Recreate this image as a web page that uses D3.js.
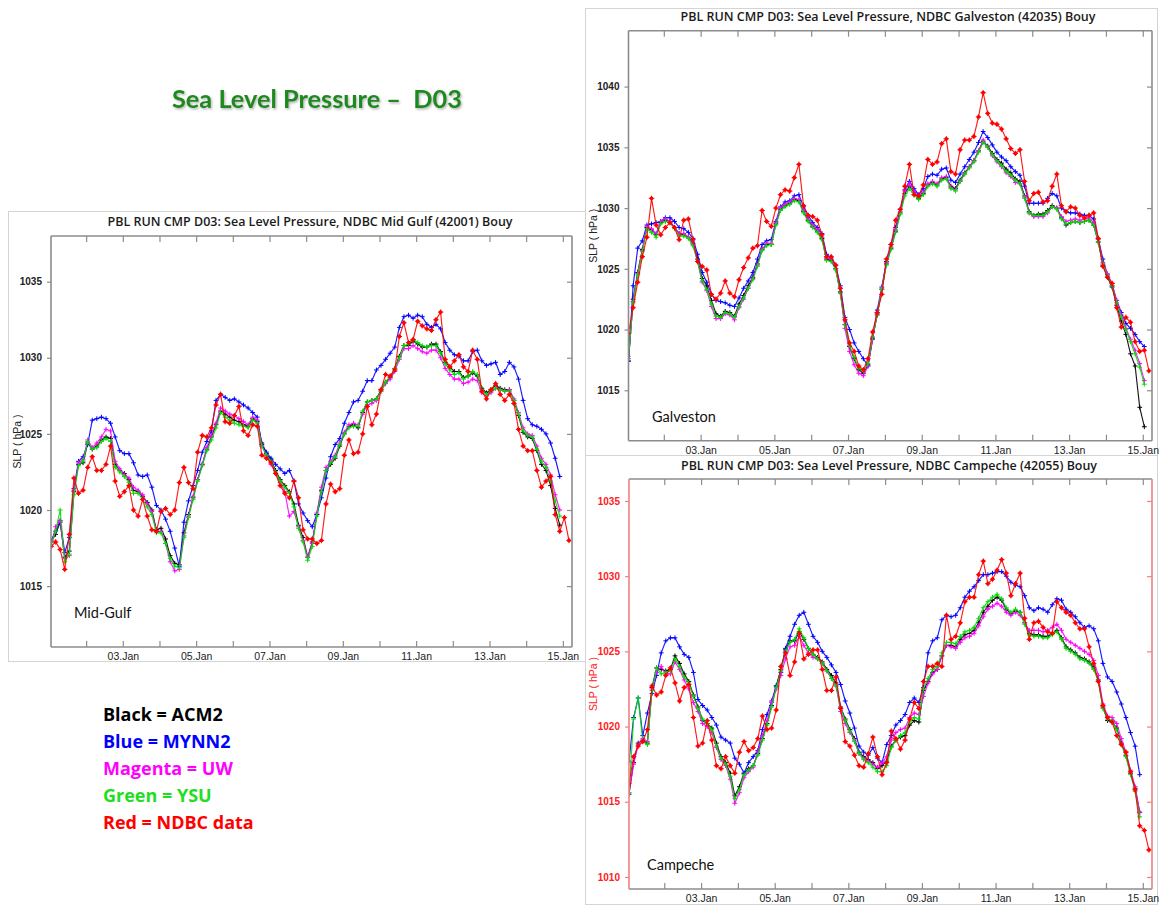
<!DOCTYPE html>
<html>
<head>
<meta charset="utf-8">
<script src="https://cdn.jsdelivr.net/npm/d3@7"></script>
<style>
  html, body { margin: 0; padding: 0; background: #ffffff; }
  svg { display: block; }
</style>
</head>
<body>
<svg id="chart" width="1161" height="905"></svg>
<script>
// Sea level pressure (hPa), model runs vs. NDBC buoy observations.
// Samples every 3 hours starting 01 Jan 01 UTC.

// ---------- Mid Gulf (42001) ----------
const midGulfACM2 = [
 1017.9,1018.4,1019.2,1016.9,1017.3,1021.2,1023.0,1023.1,1024.4,1024.0,
 1024.2,1024.6,1024.8,1024.7,1023.0,1022.6,1022.4,1022.0,1021.3,1021.2,
 1020.9,1020.5,1020.0,1018.7,1018.8,1018.1,1017.0,1016.5,1016.4,1018.5,
 1019.7,1020.8,1022.0,1023.0,1024.0,1024.8,1025.6,1026.5,1026.3,1026.1,
 1025.9,1025.8,1025.6,1025.5,1026.0,1025.8,1024.4,1023.7,1023.3,1022.6,
 1022.0,1021.6,1021.2,1020.4,1019.0,1018.2,1016.9,1017.9,1019.7,1021.3,
 1022.6,1023.0,1023.4,1024.2,1025.0,1025.5,1025.6,1025.4,1026.4,1027.1,
 1027.2,1027.3,1027.9,1028.4,1028.7,1029.3,1030.1,1030.8,1030.8,1031.1,
 1030.9,1030.7,1030.7,1030.9,1030.9,1030.4,1029.7,1029.4,1029.1,1029.1,
 1028.7,1028.8,1029.0,1028.8,1028.0,1027.7,1027.9,1028.2,1028.0,1027.9,
 1027.9,1027.2,1026.2,1025.1,1024.8,1024.7,1023.9,1023.0,1022.6,1021.6,
 1020.1,1019.0];
const midGulfMYNN2 = [
 1018.0,1018.6,1019.3,1017.2,1018.2,1021.4,1023.2,1023.5,1024.3,1025.9,
 1026.0,1026.1,1026.0,1025.7,1024.8,1023.9,1023.7,1023.7,1023.1,1022.3,
 1022.2,1022.3,1021.5,1020.3,1020.0,1019.4,1018.6,1017.5,1016.3,1019.2,
 1020.6,1021.6,1022.6,1023.8,1024.5,1025.2,1027.2,1027.6,1027.4,1027.2,
 1027.3,1027.1,1026.9,1026.7,1026.4,1026.1,1024.3,1023.8,1023.4,1023.0,
 1022.7,1022.4,1022.6,1021.9,1020.4,1019.8,1019.3,1018.9,1019.7,1020.8,
 1022.1,1023.5,1024.3,1024.7,1025.7,1026.4,1027.1,1027.2,1027.8,1028.5,
 1028.5,1029.2,1029.5,1029.9,1030.3,1030.7,1032.0,1032.7,1032.8,1032.6,
 1032.8,1032.7,1032.2,1032.0,1032.2,1031.9,1031.0,1030.5,1030.2,1030.1,
 1029.8,1029.8,1030.4,1030.5,1029.8,1029.5,1029.6,1029.7,1028.9,1029.1,
 1029.7,1029.4,1028.6,1027.2,1026.0,1025.6,1025.5,1025.3,1025.0,1024.4,
 1023.4,1022.2];
const midGulfUW = [
 1017.6,1018.9,1019.3,1016.8,1017.0,1021.3,1023.1,1023.3,1024.6,1024.1,
 1024.4,1024.8,1025.3,1025.2,1023.2,1022.7,1022.3,1022.1,1021.5,1021.3,
 1021.0,1020.4,1019.9,1018.6,1018.6,1017.8,1016.6,1016.0,1016.1,1018.3,
 1019.6,1020.9,1022.0,1023.0,1024.1,1024.9,1025.7,1026.7,1026.5,1026.3,
 1026.2,1026.0,1025.8,1025.6,1026.1,1025.9,1024.2,1023.6,1023.0,1022.4,
 1021.8,1021.2,1019.6,1019.9,1018.9,1018.0,1016.9,1017.8,1019.8,1021.5,
 1022.8,1023.2,1023.6,1024.4,1025.1,1025.6,1025.7,1025.6,1026.3,1026.9,
 1027.0,1027.2,1027.8,1028.3,1028.6,1029.1,1029.9,1030.6,1030.6,1030.8,
 1030.6,1030.4,1030.3,1030.5,1030.5,1030.0,1029.3,1028.9,1028.6,1028.6,
 1028.3,1028.4,1028.6,1028.5,1027.7,1027.5,1027.7,1028.0,1027.9,1027.8,
 1027.9,1027.3,1026.4,1025.4,1025.0,1024.9,1024.2,1023.4,1023.0,1022.3,
 1021.0,1020.0];
const midGulfYSU = [
 1017.7,1018.6,1020.0,1016.6,1017.1,1021.0,1022.9,1023.2,1024.5,1024.0,
 1024.1,1024.5,1024.7,1024.5,1022.8,1022.5,1022.2,1021.8,1021.1,1021.1,
 1020.7,1020.2,1019.7,1018.5,1018.5,1017.8,1016.8,1016.3,1016.2,1018.2,
 1019.5,1020.7,1021.9,1022.9,1023.9,1024.6,1025.4,1026.4,1026.1,1025.9,
 1025.7,1025.6,1025.5,1025.4,1025.9,1025.7,1024.2,1023.6,1023.2,1022.5,
 1021.9,1021.5,1021.1,1020.2,1018.8,1017.9,1016.7,1017.6,1019.6,1021.2,
 1022.6,1023.1,1023.5,1024.3,1025.0,1025.4,1025.5,1025.5,1026.5,1027.1,
 1027.2,1027.3,1027.8,1028.4,1028.8,1029.3,1030.0,1030.8,1030.9,1031.2,
 1031.0,1030.8,1030.7,1030.8,1030.8,1030.3,1029.6,1029.2,1028.9,1029.0,
 1028.6,1028.8,1029.1,1028.9,1027.9,1027.6,1027.8,1028.0,1027.9,1027.8,
 1027.8,1027.2,1026.3,1025.2,1024.9,1024.8,1024.0,1023.2,1022.8,1021.9,
 1020.6,1019.6];
const midGulfNDBC = [
 1017.6,1017.9,1017.4,1016.1,1018.4,1022.1,1021.1,1021.3,1022.8,1023.5,
 1022.6,1022.6,1023.0,1024.2,1021.9,1020.9,1021.2,1021.6,1020.0,1019.6,
 1020.7,1019.6,1018.7,1018.6,1019.9,1020.1,1019.7,1020.0,1021.8,1022.8,
 1021.8,1021.4,1023.8,1024.9,1024.8,1025.4,1026.9,1027.6,1025.8,1025.7,
 1026.2,1026.8,1025.2,1024.9,1025.6,1025.5,1023.6,1023.4,1023.1,1022.4,
 1021.6,1021.1,1020.8,1021.9,1020.8,1018.7,1018.1,1018.1,1017.8,1018.0,
 1020.4,1021.7,1021.2,1021.4,1023.6,1024.6,1023.7,1023.8,1025.0,1026.8,
 1025.6,1026.3,1027.9,1028.9,1028.8,1029.2,1031.4,1032.3,1031.0,1031.2,
 1032.4,1032.1,1031.9,1031.8,1032.5,1033.0,1029.9,1029.4,1029.8,1030.2,
 1029.4,1029.1,1030.5,1029.9,1027.8,1027.3,1027.9,1028.3,1027.6,1027.2,
 1027.6,1027.0,1025.3,1024.2,1023.9,1023.9,1022.6,1021.5,1021.9,1022.2,
 1019.7,1018.6,1019.5,1018.0];

// ---------- Galveston (42035) ----------
const galvestonACM2 = [
 1017.4,1022.5,1024.7,1026.6,1028.4,1028.2,1027.8,1028.8,1029.0,1028.9,
 1028.4,1027.9,1027.8,1027.6,1027.1,1025.8,1024.2,1023.6,1022.4,1021.3,
 1021.1,1021.5,1021.4,1021.1,1022.1,1022.8,1023.6,1024.3,1025.4,1026.6,
 1027.0,1027.0,1028.7,1029.9,1030.2,1030.4,1030.7,1030.6,1029.7,1029.0,
 1028.5,1028.1,1027.5,1025.8,1025.7,1025.0,1023.1,1020.4,1018.6,1017.6,
 1016.7,1016.4,1017.1,1019.3,1021.2,1023.3,1025.4,1026.7,1028.1,1029.6,
 1031.2,1031.8,1031.3,1030.8,1031.2,1031.9,1032.1,1031.9,1032.4,1032.5,
 1031.8,1031.6,1032.3,1032.9,1033.4,1033.9,1034.7,1035.5,1035.1,1034.5,
 1034.0,1033.7,1033.2,1032.9,1032.4,1032.2,1031.0,1029.7,1029.4,1029.5,
 1029.5,1029.8,1030.2,1030.0,1029.2,1028.6,1028.8,1028.9,1028.8,1028.9,
 1029.0,1028.6,1027.2,1025.3,1024.3,1023.5,1022.0,1020.7,1019.6,1018.0,
 1017.0,1013.6,1012.0];
const galvestonMYNN2 = [
 1017.4,1023.6,1026.7,1027.3,1028.6,1028.7,1028.8,1028.9,1029.2,1029.2,
 1028.9,1028.4,1028.3,1028.0,1027.5,1026.2,1024.7,1023.9,1022.9,1022.4,
 1022.3,1022.2,1022.0,1021.9,1022.6,1023.4,1024.0,1024.7,1025.8,1027.0,
 1027.3,1027.4,1028.9,1030.1,1030.5,1030.6,1031.0,1031.1,1030.1,1029.4,
 1028.8,1028.4,1027.9,1026.2,1025.9,1025.3,1023.6,1021.0,1020.0,1018.9,
 1018.2,1017.6,1017.0,1019.2,1021.6,1023.5,1025.6,1027.0,1028.4,1029.9,
 1031.5,1032.2,1031.6,1031.1,1031.6,1032.6,1032.8,1032.7,1033.2,1033.3,
 1032.3,1032.1,1032.8,1033.4,1034.0,1034.6,1035.4,1036.3,1035.8,1035.2,
 1034.6,1034.2,1033.9,1033.4,1033.0,1032.7,1031.8,1030.4,1030.4,1030.4,
 1030.4,1030.8,1031.2,1031.0,1030.0,1029.7,1029.6,1029.6,1029.5,1029.4,
 1029.4,1029.1,1027.5,1025.8,1024.5,1023.6,1022.4,1021.4,1020.5,1020.1,
 1019.6,1019.0,1018.6];
const galvestonUW = [
 1017.6,1022.3,1024.6,1026.5,1028.5,1028.3,1027.9,1028.9,1029.1,1028.9,
 1028.4,1027.9,1027.9,1027.6,1027.0,1025.6,1023.9,1023.2,1021.9,1020.9,
 1020.9,1021.3,1021.2,1020.8,1021.8,1022.5,1023.4,1024.2,1025.3,1026.6,
 1027.1,1027.1,1028.8,1030.0,1030.3,1030.5,1030.8,1030.7,1029.8,1029.1,
 1028.6,1028.2,1027.6,1025.9,1025.8,1025.0,1023.0,1020.1,1018.2,1017.1,
 1016.4,1016.2,1017.0,1019.2,1021.3,1023.4,1025.5,1026.8,1028.2,1029.7,
 1031.4,1032.0,1031.4,1030.9,1031.3,1032.0,1032.2,1032.0,1032.5,1032.6,
 1031.7,1031.5,1032.2,1032.8,1033.4,1033.9,1034.7,1035.6,1035.0,1034.3,
 1033.8,1033.4,1032.9,1032.6,1032.1,1032.0,1030.9,1029.6,1029.3,1029.3,
 1029.3,1029.6,1030.1,1030.0,1029.3,1028.9,1029.0,1029.1,1029.0,1029.1,
 1029.2,1028.8,1027.4,1025.5,1024.6,1023.8,1022.4,1021.2,1020.1,1019.2,
 1018.3,1017.2,1015.8];
const galvestonYSU = [
 1017.8,1022.2,1024.5,1026.4,1028.3,1028.0,1027.6,1028.7,1028.9,1028.8,
 1028.3,1027.7,1027.7,1027.5,1026.9,1025.6,1024.0,1023.3,1022.1,1021.1,
 1021.0,1021.4,1021.3,1021.0,1021.9,1022.6,1023.4,1024.1,1025.2,1026.5,
 1026.9,1027.0,1028.6,1029.8,1030.1,1030.3,1030.6,1030.5,1029.6,1028.9,
 1028.4,1028.0,1027.4,1025.7,1025.6,1024.9,1023.0,1020.4,1018.7,1017.7,
 1016.8,1016.6,1017.2,1019.4,1021.3,1023.3,1025.3,1026.6,1028.0,1029.5,
 1031.0,1031.6,1031.1,1030.7,1031.1,1031.8,1032.0,1031.8,1032.3,1032.4,
 1031.6,1031.4,1032.2,1032.8,1033.3,1033.8,1034.6,1035.4,1035.0,1034.4,
 1033.9,1033.5,1033.0,1032.7,1032.3,1032.0,1030.8,1029.6,1029.4,1029.4,
 1029.4,1029.7,1030.1,1029.9,1029.1,1028.7,1028.8,1028.9,1028.8,1028.9,
 1029.0,1028.6,1027.2,1025.4,1024.4,1023.6,1022.2,1021.0,1020.0,1019.0,
 1018.0,1016.9,1015.5];
const galvestonNDBC = [
 1019.7,1021.8,1023.9,1026.0,1027.6,1030.8,1028.6,1027.8,1028.4,1028.8,
 1028.4,1027.4,1029.0,1029.1,1027.4,1025.6,1025.2,1024.9,1022.9,1022.5,
 1023.0,1024.0,1023.0,1022.7,1024.1,1025.1,1025.9,1026.7,1026.9,1029.8,
 1028.9,1028.5,1030.0,1031.1,1031.5,1031.4,1032.5,1033.6,1030.2,1029.4,
 1029.3,1029.0,1027.8,1026.0,1026.0,1025.3,1023.4,1020.8,1018.9,1018.2,
 1017.0,1016.7,1017.6,1019.8,1021.4,1022.9,1025.8,1027.0,1029.0,1029.9,
 1031.8,1033.6,1031.1,1031.0,1031.9,1034.0,1033.6,1033.8,1035.3,1035.7,
 1033.0,1032.8,1034.8,1035.6,1035.6,1035.9,1037.5,1039.5,1037.8,1037.0,
 1036.9,1036.5,1035.7,1034.9,1034.5,1034.8,1032.2,1030.6,1031.2,1031.3,
 1030.5,1030.6,1031.8,1032.8,1030.2,1029.7,1030.1,1030.0,1029.4,1029.2,
 1029.4,1029.6,1027.5,1025.2,1024.3,1023.8,1021.8,1020.2,1021.0,1020.6,
 1019.0,1018.2,1018.3,1016.6];

// ---------- Campeche (42055) ----------
const campecheACM2 = [
 1015.5,1017.6,1018.9,1019.1,1018.9,1022.6,1023.9,1023.8,1023.7,1023.8,
 1024.7,1024.2,1023.5,1023.0,1022.1,1021.3,1020.4,1020.2,1019.9,1018.9,
 1018.0,1017.6,1016.9,1015.4,1016.0,1016.9,1017.2,1017.4,1018.2,1019.2,
 1020.2,1021.4,1022.7,1023.8,1025.1,1025.7,1025.7,1026.3,1025.8,1025.2,
 1024.8,1024.6,1024.3,1023.8,1023.4,1022.9,1021.3,1020.5,1019.8,1019.2,
 1018.3,1018.0,1017.8,1017.6,1017.2,1017.4,1017.7,1018.7,1019.1,1019.3,
 1019.4,1020.1,1020.4,1020.3,1022.4,1023.0,1023.6,1023.8,1024.7,1025.4,
 1025.4,1025.3,1025.8,1026.1,1026.2,1026.4,1026.9,1027.6,1028.0,1028.4,
 1028.6,1028.4,1027.8,1027.5,1027.7,1027.6,1026.9,1026.2,1026.1,1026.1,
 1026.0,1026.0,1026.2,1026.4,1025.9,1025.3,1025.1,1024.9,1024.6,1024.5,
 1024.3,1023.9,1023.1,1021.3,1020.4,1020.3,1019.9,1018.9,1018.1,1016.9,
 1015.9,1014.3];
const campecheMYNN2 = [
 1017.7,1020.6,1021.9,1019.4,1020.9,1022.2,1023.4,1024.9,1025.7,1025.9,
 1025.9,1025.3,1024.8,1024.6,1023.6,1021.8,1021.4,1021.1,1020.6,1020.1,
 1019.3,1019.1,1018.9,1017.9,1017.5,1016.9,1017.6,1018.0,1018.4,1019.8,
 1020.8,1021.7,1022.7,1023.6,1025.2,1026.0,1026.8,1027.4,1027.6,1026.8,
 1026.0,1025.6,1025.0,1024.6,1024.1,1023.6,1022.8,1021.7,1020.9,1019.9,
 1018.7,1018.3,1018.1,1018.6,1017.9,1017.6,1018.8,1019.4,1020.1,1020.4,
 1020.8,1021.6,1021.9,1021.6,1022.6,1024.9,1025.7,1025.9,1027.1,1027.4,
 1027.3,1027.4,1027.9,1028.6,1029.0,1029.3,1029.7,1030.1,1030.1,1030.2,
 1030.3,1030.3,1030.0,1029.6,1029.4,1029.3,1028.7,1027.9,1027.7,1027.9,
 1027.8,1027.6,1028.1,1028.5,1028.4,1027.8,1027.6,1027.3,1026.9,1026.6,
 1026.7,1026.5,1025.7,1024.2,1023.3,1023.0,1022.3,1021.5,1020.6,1019.6,
 1018.7,1016.8];
const campecheUW = [
 1015.6,1017.5,1018.8,1019.2,1019.0,1022.5,1023.6,1024.0,1023.5,1023.5,
 1024.3,1023.8,1023.1,1022.5,1021.6,1021.0,1020.2,1020.0,1019.6,1018.6,
 1017.8,1017.4,1016.5,1014.9,1015.6,1016.6,1017.0,1017.3,1018.3,1019.4,
 1020.4,1021.6,1022.5,1023.4,1024.5,1025.3,1025.4,1026.0,1025.4,1024.9,
 1024.6,1024.5,1024.2,1023.7,1023.2,1022.7,1021.0,1020.2,1019.6,1019.1,
 1018.2,1017.9,1017.7,1017.5,1017.3,1017.6,1018.0,1019.1,1019.6,1019.8,
 1019.9,1020.6,1020.9,1020.8,1022.0,1022.9,1023.5,1023.8,1024.7,1025.4,
 1025.3,1025.2,1025.6,1025.9,1026.0,1026.2,1026.7,1027.3,1027.8,1028.0,
 1028.2,1028.0,1027.6,1027.4,1027.6,1027.4,1026.9,1026.4,1026.4,1026.4,
 1026.3,1026.4,1026.6,1026.8,1026.4,1025.8,1025.6,1025.4,1025.2,1025.0,
 1024.8,1024.4,1023.4,1021.5,1020.7,1020.6,1020.2,1019.2,1018.3,1017.1,
 1016.0,1014.3];
const campecheYSU = [
 1015.6,1020.5,1021.9,1019.0,1018.8,1022.4,1023.9,1023.5,1023.6,1023.7,
 1024.5,1024.0,1023.3,1022.9,1022.0,1021.2,1020.5,1020.2,1019.8,1018.7,
 1017.9,1017.5,1016.7,1015.2,1015.8,1016.8,1017.1,1017.4,1018.1,1019.1,
 1020.1,1021.3,1022.6,1023.7,1025.0,1025.6,1025.8,1026.5,1025.9,1025.2,
 1024.8,1024.5,1024.2,1023.7,1023.2,1022.7,1021.2,1020.4,1019.7,1019.0,
 1018.2,1017.8,1017.6,1017.3,1017.0,1017.0,1017.4,1018.6,1019.1,1019.4,
 1019.6,1020.3,1020.6,1020.5,1022.5,1023.2,1023.8,1024.0,1024.9,1025.6,
 1025.6,1025.5,1026.0,1026.3,1026.4,1026.6,1027.2,1027.9,1028.3,1028.6,
 1028.8,1028.5,1027.9,1027.6,1027.8,1027.6,1026.8,1026.1,1026.0,1026.0,
 1025.9,1025.9,1026.1,1026.3,1025.8,1025.2,1025.0,1024.8,1024.5,1024.4,
 1024.2,1023.8,1023.0,1021.2,1020.5,1020.4,1019.8,1018.8,1018.0,1016.8,
 1015.7,1014.0];
const campecheNDBC = [
 1016.2,1018.0,1018.7,1019.0,1019.8,1022.7,1022.1,1022.3,1023.4,1023.9,
 1022.9,1021.7,1022.6,1022.8,1020.6,1018.7,1018.9,1020.4,1019.1,1017.4,
 1017.2,1018.0,1017.4,1016.9,1018.3,1019.0,1018.4,1018.6,1019.2,1020.7,
 1019.8,1019.9,1021.1,1024.0,1024.9,1023.4,1024.3,1026.2,1024.5,1024.8,
 1025.1,1025.1,1023.8,1022.4,1022.4,1023.3,1021.2,1019.0,1018.7,1018.1,
 1017.4,1017.3,1018.2,1019.3,1018.0,1016.8,1017.6,1019.7,1019.2,1018.5,
 1019.1,1020.5,1021.6,1021.2,1023.0,1024.0,1024.0,1024.2,1024.0,1027.4,
 1025.8,1026.0,1026.9,1028.3,1028.6,1028.6,1030.1,1031.0,1029.5,1029.8,
 1030.4,1031.1,1030.2,1028.7,1029.5,1030.2,1027.2,1025.8,1026.9,1027.0,
 1026.6,1026.3,1026.2,1028.3,1027.9,1027.6,1027.4,1026.9,1026.5,1026.5,
 1025.3,1024.2,1023.0,1021.4,1020.6,1020.3,1019.4,1018.8,1018.3,1017.0,
 1015.8,1013.4,1013.1,1011.8];

// Axis tick values and labels
const midGulfTicks   = [1015, 1020, 1025, 1030, 1035];
const galvestonTicks = [1015, 1020, 1025, 1030, 1035, 1040];
const campecheTicks  = [1010, 1015, 1020, 1025, 1030, 1035];
const legendLabels = ["Black = ACM2", "Blue = MYNN2", "Magenta = UW", "Green = YSU", "Red = NDBC data"];

// ---------- time axis ----------
const HOUR = 3600e3;
const T0 = Date.UTC(2014, 0, 1);          // 01 Jan 00 UTC
const FIRST_HOUR = 1, STEP_HOURS = 3;
const timeAt = i => new Date(T0 + (FIRST_HOUR + STEP_HOURS * i) * HOUR);
const xDomain = [new Date(T0 + 1 * HOUR), new Date(T0 + 342 * HOUR)];
const fmtDay = d3.utcFormat("%d.%b");

// ---------- styles ----------
const lineStyles = [
  { color: "#000000", marker: "plus" },   // ACM2
  { color: "#0000ff", marker: "plus" },   // MYNN2
  { color: "#ff00ff", marker: "plus" },   // UW
  { color: "#00dd00", marker: "plus" },   // YSU
  { color: "#ff0000", marker: "dot"  }    // NDBC
];
const legendColors = ["#000000", "#0000ff", "#ff00ff", "#22dd22", "#ff0000"];

const panels = [
  {
    title: "PBL RUN CMP D03: Sea Level Pressure, NDBC Mid Gulf (42001) Bouy",
    name: "Mid-Gulf",
    series: [midGulfACM2, midGulfMYNN2, midGulfUW, midGulfYSU, midGulfNDBC],
    ticks: midGulfTicks, yDomain: [1011, 1038],
    frame: { x: 8.5, y: 211.5, w: 578, h: 450 },
    plot: { l: 51, r: 572, t: 236, b: 647 },
    titleX: 310, titleY: 226, titleW: 405,
    nameX: 74, nameY: 618,
    ylabX: 17, sideColor: "#8c8c8c", labelColor: "#222"
  },
  {
    title: "PBL RUN CMP D03: Sea Level Pressure, NDBC Galveston (42035) Bouy",
    name: "Galveston",
    series: [galvestonACM2, galvestonMYNN2, galvestonUW, galvestonYSU, galvestonNDBC],
    ticks: galvestonTicks, yDomain: [1010.85, 1044.6],
    frame: { x: 585.5, y: 8.5, w: 572, h: 449 },
    plot: { l: 628.5, r: 1152, t: 30.7, b: 440.7 },
    titleX: 888, titleY: 21, titleW: 415,
    nameX: 652, nameY: 422,
    ylabX: 593, sideColor: "#8c8c8c", labelColor: "#222"
  },
  {
    title: "PBL RUN CMP D03: Sea Level Pressure, NDBC Campeche (42055) Bouy",
    name: "Campeche",
    series: [campecheACM2, campecheMYNN2, campecheUW, campecheYSU, campecheNDBC],
    ticks: campecheTicks, yDomain: [1009.2, 1036.46],
    frame: { x: 585.5, y: 455.5, w: 572, h: 449 },
    plot: { l: 629, r: 1152, t: 479, b: 889 },
    titleX: 889, titleY: 470, titleW: 416,
    nameX: 647, nameY: 870,
    ylabX: 593, sideColor: "#f08080", labelColor: "#ff2020"
  }
];

const svg = d3.select("#chart");
svg.append("rect").attr("width", 1161).attr("height", 905).attr("fill", "#ffffff");

const defs = svg.append("defs");
const shadow = defs.append("filter").attr("id", "soft-shadow")
  .attr("x", "-5%").attr("y", "-20%").attr("width", "110%").attr("height", "150%");
shadow.append("feDropShadow").attr("dx", 1.2).attr("dy", 1.5)
  .attr("stdDeviation", 1).attr("flood-color", "#777").attr("flood-opacity", 0.55);

panels.forEach((p, pi) => {
  const g = svg.append("g");
  const x = d3.scaleUtc().domain(xDomain).range([p.plot.l, p.plot.r]);
  const y = d3.scaleLinear().domain(p.yDomain).range([p.plot.b, p.plot.t]);

  // panel frame
  g.append("rect")
    .attr("x", p.frame.x).attr("y", p.frame.y)
    .attr("width", p.frame.w).attr("height", p.frame.h)
    .attr("fill", "#fff").attr("stroke", "#d4d4d4").attr("stroke-width", 1);

  // title
  g.append("text")
    .attr("x", p.titleX).attr("y", p.titleY)
    .attr("text-anchor", "middle")
    .attr("textLength", p.titleW).attr("lengthAdjust", "spacingAndGlyphs")
    .style("font-family", "'Open Sans', 'Noto Sans', sans-serif")
    .style("font-size", "12px").style("font-weight", 600).style("fill", "#1a1a1a")
    .text(p.title);

  // data lines, clipped to plot area
  const clipId = "clip" + pi;
  defs.append("clipPath").attr("id", clipId).append("rect")
    .attr("x", p.plot.l).attr("y", p.plot.t)
    .attr("width", p.plot.r - p.plot.l).attr("height", p.plot.b - p.plot.t);
  const dataG = g.append("g").attr("clip-path", `url(#${clipId})`);

  p.series.forEach((vals, si) => {
    const st = lineStyles[si];
    const pts = vals.map((v, i) => [x(timeAt(i)), y(v)]);
    dataG.append("path")
      .attr("d", d3.line()(pts))
      .attr("fill", "none").attr("stroke", st.color)
      .attr("stroke-width", 1.15).attr("stroke-opacity", 0.9);
    if (st.marker === "dot") {
      dataG.append("g").selectAll("circle").data(pts).join("circle")
        .attr("cx", d => d[0]).attr("cy", d => d[1]).attr("r", 1.9)
        .attr("fill", st.color);
    }
    const s = st.marker === "dot" ? 2.7 : 2.4;
    const plus = pts.map(d => `M${d[0] - s},${d[1]}h${2 * s}M${d[0]},${d[1] - s}v${2 * s}`).join("");
    dataG.append("path").attr("d", plus)
      .attr("fill", "none").attr("stroke", st.color).attr("stroke-width", 1);
  });

  // axes
  const axisG = g.append("g")
    .style("font-family", "'Liberation Sans', Arial, sans-serif");

  const left = axisG.append("g").attr("transform", `translate(${p.plot.l},0)`)
    .call(d3.axisLeft(y).tickValues(p.ticks).tickSize(4).tickPadding(5).tickFormat(d3.format("d")));
  const right = axisG.append("g").attr("transform", `translate(${p.plot.r},0)`)
    .call(d3.axisRight(y).tickValues(p.ticks).tickSize(-5).tickFormat(""));
  const top = axisG.append("g").attr("transform", `translate(0,${p.plot.t})`)
    .call(d3.axisTop(x).ticks(d3.utcDay.every(1)).tickSize(-6).tickFormat(""));
  const bottom = axisG.append("g").attr("transform", `translate(0,${p.plot.b})`)
    .call(d3.axisBottom(x).ticks(d3.utcDay.every(1)).tickSize(-6).tickPadding(6)
      .tickFormat(d => d.getUTCDate() % 2 === 1 ? fmtDay(d) : ""));

  [left, right, top, bottom].forEach(a => a.select(".domain").remove());
  [left, right].forEach(a => a.selectAll(".tick line").attr("stroke", p.sideColor).attr("stroke-width", 1.2));
  [top, bottom].forEach(a => a.selectAll(".tick line").attr("stroke", "#8c8c8c").attr("stroke-width", 1.2));
  left.selectAll("text").style("font-size", "10px").style("font-weight", "bold").attr("fill", p.labelColor);
  bottom.selectAll("text").style("font-size", "10.5px").attr("fill", "#222");

  // plot border: top/bottom grey, sides per panel
  g.append("line").attr("x1", p.plot.l).attr("x2", p.plot.r).attr("y1", p.plot.t).attr("y2", p.plot.t)
    .attr("stroke", "#8c8c8c").attr("stroke-width", 1.6);
  g.append("line").attr("x1", p.plot.l).attr("x2", p.plot.r).attr("y1", p.plot.b).attr("y2", p.plot.b)
    .attr("stroke", "#8c8c8c").attr("stroke-width", 1.6);
  g.append("line").attr("x1", p.plot.l).attr("x2", p.plot.l).attr("y1", p.plot.t).attr("y2", p.plot.b)
    .attr("stroke", p.sideColor).attr("stroke-width", 1.6);
  g.append("line").attr("x1", p.plot.r).attr("x2", p.plot.r).attr("y1", p.plot.t).attr("y2", p.plot.b)
    .attr("stroke", p.sideColor).attr("stroke-width", 1.6);

  // y-axis title
  g.append("text")
    .attr("transform", `translate(${p.ylabX},${(p.plot.t + p.plot.b) / 2}) rotate(-90)`)
    .attr("text-anchor", "middle").attr("dy", "0.35em")
    .style("font-family", "'Liberation Sans', Arial, sans-serif")
    .style("font-size", "10.5px").style("fill", p.labelColor)
    .text("SLP ( hPa )");

  // station name
  g.append("text")
    .attr("x", p.nameX).attr("y", p.nameY)
    .style("font-family", "Lato, 'Open Sans', sans-serif")
    .style("font-size", "14.5px").style("fill", "#111")
    .text(p.name);
});

// heading
svg.append("text")
  .attr("x", 172).attr("y", 108)
  .attr("textLength", 290).attr("lengthAdjust", "spacingAndGlyphs")
  .attr("filter", "url(#soft-shadow)")
  .style("white-space", "pre")
  .style("font-family", "Lato, 'Open Sans', sans-serif")
  .style("font-size", "24px").style("font-weight", "bold").style("fill", "#1e8a1e")
  .text("Sea Level Pressure \u2013  D03");

// colour key
svg.append("g").selectAll("text").data(legendLabels).join("text")
  .attr("x", 103).attr("y", (d, i) => 721 + i * 27)
  .style("font-family", "'Open Sans', Lato, sans-serif")
  .style("font-size", "18px").style("font-weight", "bold")
  .style("fill", (d, i) => legendColors[i])
  .text(d => d);
</script>
</body>
</html>
